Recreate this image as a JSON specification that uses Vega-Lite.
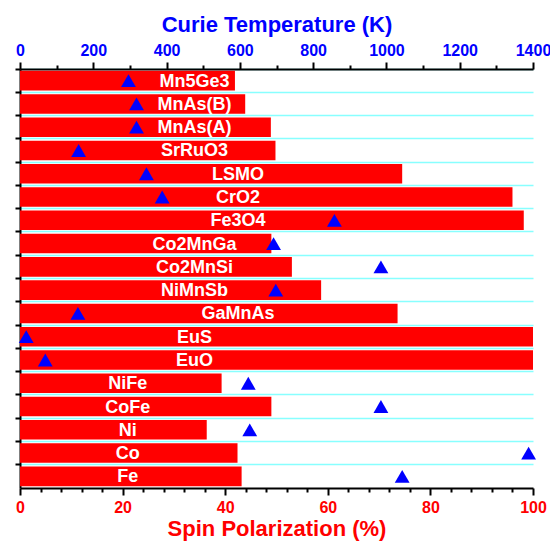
{
  "$schema": "https://vega.github.io/schema/vega-lite/v6.json",
  "width": 513,
  "height": 419,
  "autosize": "none",
  "padding": {"left": 20, "top": 69, "right": 17, "bottom": 54},
  "background": "white",
  "config": {"view": {"stroke": null}, "font": "Liberation Sans", "axis": {"labelOverlap": false}},
  "data": {
    "values": [
      {"material": "Mn5Ge3", "polarization": 41.9, "curie": 296},
      {"material": "MnAs(B)", "polarization": 43.9, "curie": 318},
      {"material": "MnAs(A)", "polarization": 48.9, "curie": 318},
      {"material": "SrRuO3", "polarization": 49.8, "curie": 160},
      {"material": "LSMO", "polarization": 74.5, "curie": 345},
      {"material": "CrO2", "polarization": 96, "curie": 388},
      {"material": "Fe3O4", "polarization": 98.2, "curie": 858},
      {"material": "Co2MnGa", "polarization": 49, "curie": 692},
      {"material": "Co2MnSi", "polarization": 53, "curie": 985},
      {"material": "NiMnSb", "polarization": 58.7, "curie": 698},
      {"material": "GaMnAs", "polarization": 73.6, "curie": 158},
      {"material": "EuS", "polarization": 100, "curie": 17},
      {"material": "EuO", "polarization": 100, "curie": 69},
      {"material": "NiFe", "polarization": 39.3, "curie": 623},
      {"material": "CoFe", "polarization": 49, "curie": 985},
      {"material": "Ni", "polarization": 36.4, "curie": 627},
      {"material": "Co", "polarization": 42.4, "curie": 1388},
      {"material": "Fe", "polarization": 43.2, "curie": 1043}
    ]
  },
  "layer": [
    {
      "mark": {"type": "bar", "opacity": 0},
      "encoding": {
        "y": {
          "field": "material",
          "type": "nominal",
          "sort": null,
          "scale": {
            "domain": ["Mn5Ge3", "MnAs(B)", "MnAs(A)", "SrRuO3", "LSMO", "CrO2", "Fe3O4", "Co2MnGa", "Co2MnSi", "NiMnSb", "GaMnAs", "EuS", "EuO", "NiFe", "CoFe", "Ni", "Co", "Fe"],
            "paddingInner": 0.16,
            "paddingOuter": 0.08
          },
          "axis": {
            "labels": false,
            "title": null,
            "grid": true,
            "gridColor": "#88ffff",
            "gridWidth": 1.5,
            "bandPosition": -0.0952,
            "tickSize": 5,
            "tickWidth": 2,
            "tickColor": "black",
            "domainColor": "black",
            "domainWidth": 2
          }
        },
        "x": {
          "field": "polarization",
          "type": "quantitative",
          "scale": {"domain": [0, 100], "nice": false},
          "axis": {
            "orient": "bottom",
            "title": null,
            "labels": false,
            "domain": false,
            "values": [4, 8, 12, 16, 24, 28, 32, 36, 44, 48, 52, 56, 64, 68, 72, 76, 84, 88, 92, 96],
            "tickSize": 4,
            "tickWidth": 2,
            "tickColor": "black",
            "grid": false
          }
        }
      }
    },
    {
      "encoding": {
        "y": {"field": "material", "type": "nominal", "sort": null}
      },
      "layer": [
        {
          "mark": {"type": "bar", "color": "#ff0000"},
          "encoding": {
            "x": {
              "field": "polarization",
              "type": "quantitative",
              "scale": {"domain": [0, 100], "nice": false},
              "axis": {
                "orient": "bottom",
                "title": "Spin Polarization (%)",
                "titleColor": "#ff0000",
                "titleFontSize": 22,
                "titleFontWeight": "bold",
                "titlePadding": 3,
                "values": [0, 20, 40, 60, 80, 100],
                "labelColor": "#ff0000",
                "labelFontSize": 16,
                "labelFontWeight": "bold",
                "labelPadding": 4,
                "labelFlush": false,
                "labelOverlap": false,
                "tickSize": 7,
                "tickWidth": 2,
                "tickColor": "black",
                "domainColor": "black",
                "domainWidth": 2,
                "grid": false
              }
            }
          }
        },
        {
          "transform": [{"filter": {"field": "material", "oneOf": ["Mn5Ge3", "MnAs(B)", "MnAs(A)", "SrRuO3", "Co2MnGa", "Co2MnSi", "NiMnSb", "EuS", "EuO"]}}],
          "mark": {"type": "text", "color": "white", "fontWeight": "bold", "fontSize": 18, "align": "center", "baseline": "middle", "dy": 1},
          "encoding": {
            "x": {"datum": 34, "type": "quantitative"},
            "text": {"field": "material"}
          }
        },
        {
          "transform": [{"filter": {"field": "material", "oneOf": ["LSMO", "CrO2", "Fe3O4", "GaMnAs"]}}],
          "mark": {"type": "text", "color": "white", "fontWeight": "bold", "fontSize": 18, "align": "center", "baseline": "middle", "dy": 1},
          "encoding": {
            "x": {"datum": 42.5, "type": "quantitative"},
            "text": {"field": "material"}
          }
        },
        {
          "transform": [{"filter": {"field": "material", "oneOf": ["NiFe", "CoFe", "Ni", "Co", "Fe"]}}],
          "mark": {"type": "text", "color": "white", "fontWeight": "bold", "fontSize": 18, "align": "center", "baseline": "middle", "dy": 1},
          "encoding": {
            "x": {"datum": 21, "type": "quantitative"},
            "text": {"field": "material"}
          }
        }
      ]
    },
    {
      "mark": {"type": "point", "shape": "triangle-up", "filled": true, "color": "#0000ff", "opacity": 1, "size": 220},
      "encoding": {
        "y": {"field": "material", "type": "nominal", "sort": null},
        "x": {
          "field": "curie",
          "type": "quantitative",
          "scale": {"domain": [0, 1400], "nice": false},
          "axis": {
            "orient": "top",
            "title": "Curie Temperature (K)",
            "titleColor": "#0000ff",
            "titleFontSize": 22,
            "titleFontWeight": "bold",
            "titlePadding": 6,
            "values": [0, 100, 200, 300, 400, 500, 600, 700, 800, 900, 1000, 1100, 1200, 1300, 1400],
            "labelExpr": "(datum.value % 200 === 0) ? ('' + datum.value) : ' '",
            "labelColor": "#0000ff",
            "labelFontSize": 16,
            "labelFontWeight": "bold",
            "labelPadding": 4,
            "labelFlush": false,
            "labelOverlap": false,
            "tickSize": {"condition": {"test": "datum.value % 200 === 0", "value": 7}, "value": 4},
            "tickWidth": 2,
            "tickColor": "black",
            "domainColor": "black",
            "domainWidth": 2,
            "grid": false
          }
        }
      }
    }
  ],
  "resolve": {"scale": {"x": "independent"}, "axis": {"x": "independent"}}
}
